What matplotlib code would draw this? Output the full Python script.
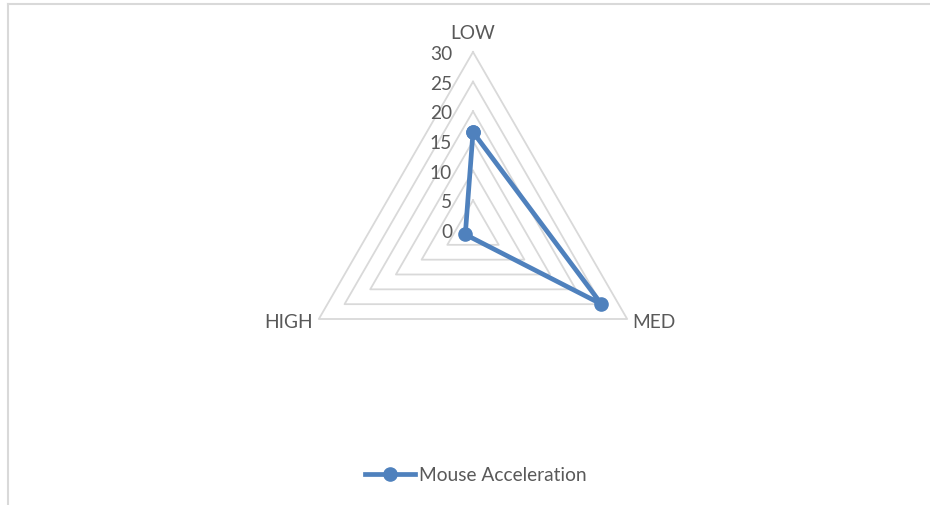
import numpy as np
import matplotlib
matplotlib.use('Agg')
import matplotlib.pyplot as plt
from matplotlib.lines import Line2D

# Radar data
categories = ['LOW', 'MED', 'HIGH']
values = [16.5, 25, 1.5]
series_name = 'Mouse Acceleration'
ring_levels = [5, 10, 15, 20, 25, 30]
tick_levels = [0, 5, 10, 15, 20, 25, 30]

blue = '#4F81BD'
grid_gray = '#D9D9D9'
text_gray = '#595959'

plt.rcParams['font.family'] = ['Lato', 'DejaVu Sans']
fs = 13.8

fig = plt.figure(figsize=(9.3, 5.06), dpi=100)
ax = fig.add_axes([295 / 930, 97 / 506, 356 / 930, 356 / 506], projection='polar')
ax.set_theta_offset(np.pi / 2)
ax.set_theta_direction(-1)
ax.set_ylim(0, 30)
ax.grid(False)
ax.spines['polar'].set_visible(False)
ax.set_xticks([])
ax.set_yticks([])
ax.patch.set_alpha(0)

angles = np.arange(len(categories)) * 2 * np.pi / len(categories)
closed = np.append(angles, angles[0])

# triangular gridlines
for lvl in ring_levels:
    ax.plot(closed, [lvl] * len(closed), color=grid_gray, lw=1.3, zorder=1,
            clip_on=False)

# radial value labels to the left of the top spoke
for lvl in tick_levels:
    ax.annotate(str(lvl), xy=(0, lvl), xytext=(-15, -1), textcoords='offset points',
                ha='right', va='center', fontsize=fs, color=text_gray)

# category labels around the outer ring
offsets = [(0, 14), (4, -2), (-4, -2)]
aligns = ['center', 'left', 'right']
for ang, lab, off, ha in zip(angles, categories, offsets, aligns):
    ax.annotate(lab, xy=(ang, 30), xytext=off, textcoords='offset points',
                ha=ha, va='center', fontsize=fs, color=text_gray,
                annotation_clip=False)

ax.plot(closed, np.append(values, values[0]), color=blue, lw=3.4, marker='o',
        markersize=9.5, zorder=3, clip_on=False, label=series_name)

fig.legend(loc='center', bbox_to_anchor=(476 / 930, 1 - 476 / 506),
           frameon=False, handlelength=2.6, handletextpad=0.2,
           prop={'size': fs}, labelcolor=text_gray)

# chart frame on top and left edges
fig.add_artist(Line2D([8 / 930, 8 / 930], [0, 1 - 5 / 506], color=grid_gray, lw=1.5))
fig.add_artist(Line2D([8 / 930, 1], [1 - 5 / 506, 1 - 5 / 506], color=grid_gray, lw=1.5))

fig.savefig('out.png', dpi=100)
